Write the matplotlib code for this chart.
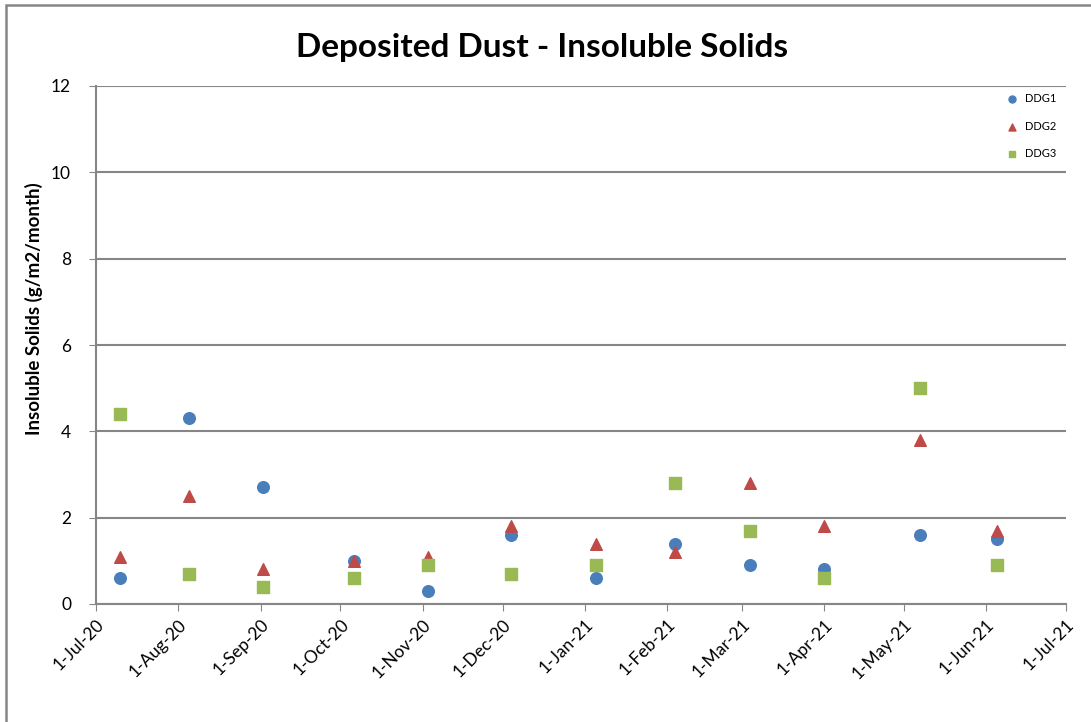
import numpy as np
import matplotlib
matplotlib.use('Agg')
from matplotlib import pyplot as plt
import matplotlib.dates as mdates
from matplotlib.patches import Rectangle
import datetime as dt

plt.rc('font', family=['Lato', 'DejaVu Sans'])

#   Data (sample dates and g/m2/month)
dates = ['2020-07-10', '2020-08-05', '2020-09-02', '2020-10-06', '2020-11-03', '2020-12-04',
         '2021-01-05', '2021-02-04', '2021-03-04', '2021-04-01', '2021-05-07', '2021-06-05']
ddg1 = [0.6, 4.3, 2.7, 1.0, 0.3, 1.6, 0.6, 1.4, 0.9, 0.8, 1.6, 1.5]
ddg2 = [1.1, 2.5, 0.8, 1.0, 1.1, 1.8, 1.4, 1.2, 2.8, 1.8, 3.8, 1.7]
ddg3 = [4.4, 0.7, 0.4, 0.6, 0.9, 0.7, 0.9, 2.8, 1.7, 0.6, 5.0, 0.9]
tick_labels = ['1-Jul-20', '1-Aug-20', '1-Sep-20', '1-Oct-20', '1-Nov-20', '1-Dec-20', '1-Jan-21',
               '1-Feb-21', '1-Mar-21', '1-Apr-21', '1-May-21', '1-Jun-21', '1-Jul-21']

x = [dt.datetime.strptime(d, '%Y-%m-%d') for d in dates]
ticks = [dt.datetime.strptime(t, '%d-%b-%y') for t in tick_labels]

W, H = 1091, 722
fig = plt.figure(figsize=(W / 100, H / 100), dpi=100)
ax = fig.add_axes([96 / W, 1 - 604 / H, (1066 - 96) / W, (604 - 86) / H])

# outer chart border (right and bottom edges fall outside the picture)
fig.patches.append(Rectangle((6 / W, -0.1), 2.0, 1.1 - 5 / H, transform=fig.transFigure,
                             fill=False, edgecolor='#868686', linewidth=1.8))

grey = '#868686'
ax.scatter(x, ddg1, marker='o', s=70, color='#4a7ebb', label='DDG1', zorder=3)
ax.scatter(x, ddg2, marker='^', s=70, color='#be4b48', label='DDG2', zorder=3)
ax.scatter(x, ddg3, marker='s', s=70, color='#98b954', label='DDG3', zorder=3)

ax.set_ylim(0, 12)
ax.set_yticks(np.arange(0, 13, 2))
ax.set_xlim(ticks[0], ticks[-1])
ax.set_xticks(ticks)
ax.set_xticklabels(tick_labels, rotation=45, ha='right', rotation_mode='anchor', fontsize=12.5)
ax.tick_params(axis='y', labelsize=12.5, length=5, color=grey, pad=13)
ax.tick_params(axis='x', length=5, color=grey, pad=4)

ax.grid(axis='y', color=grey, linewidth=1.5)
ax.set_axisbelow(True)
for s in ['top', 'right']:
    ax.spines[s].set_visible(False)
for s in ['left', 'bottom']:
    ax.spines[s].set_color(grey)
    ax.spines[s].set_linewidth(1.5)

ax.set_ylabel('Insoluble Solids (g/m2/month)', fontsize=13.5, fontweight='bold')
ax.yaxis.set_label_coords(-0.055, 0.57)
fig.text(542 / W, 1 - 48 / H, 'Deposited Dust - Insoluble Solids', ha='center', va='center',
         fontsize=24, fontweight='bold')

ax.legend(loc='upper right', bbox_to_anchor=(1.0, 1.005), frameon=False, fontsize=8,
          markerscale=0.6, handletextpad=0.1, labelspacing=1.45)

fig.savefig('out.png')
